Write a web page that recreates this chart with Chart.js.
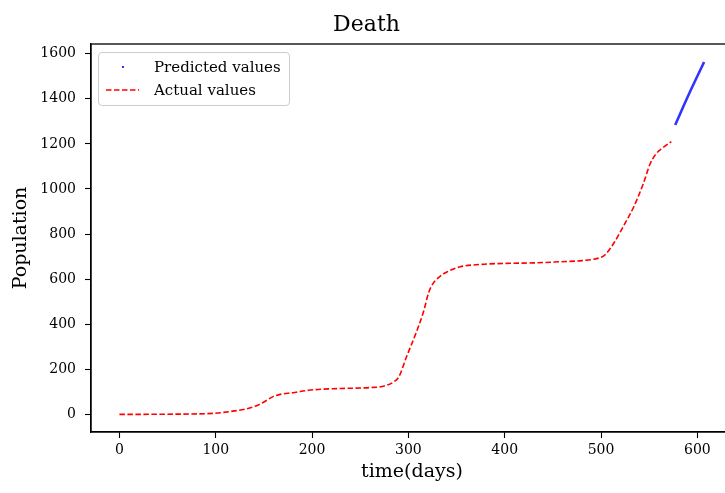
<!DOCTYPE html>
<html>
<head>
<meta charset="utf-8">
<script src="https://cdn.jsdelivr.net/npm/chart.js@4"></script>
<style>
  html, body { margin: 0; padding: 0; background: #fff; overflow: hidden; }
  #wrap { position: relative; width: 745px; height: 493px; }
  #legend {
    position: absolute; left: 98px; top: 52px; width: 190px; height: 52px;
    border: 1px solid #ccc; border-radius: 4px; background: rgba(255,255,255,0.8);
    font-family: "DejaVu Serif", serif; font-size: 15px; color: #000;
  }
  #legend .row { position: absolute; left: 0; height: 20px; line-height: 20px; }
  #legend svg { position: absolute; left: 7px; top: 2px; }
  #legend span { position: absolute; left: 55px; white-space: nowrap; }
</style>
</head>
<body>
<div id="wrap">
  <canvas id="chart" width="745" height="493"></canvas>
  <div id="legend">
    <div class="row" style="top:4px">
      <svg width="34" height="16"><circle cx="17" cy="8" r="1.1" fill="#0000ff"/></svg>
      <span>Predicted values</span>
    </div>
    <div class="row" style="top:27px">
      <svg width="34" height="16"><line x1="0" y1="8" x2="33" y2="8" stroke="#ff0000" stroke-width="1.6" stroke-dasharray="5.5,2.5"/></svg>
      <span>Actual values</span>
    </div>
  </div>
</div>
<script>
const actualDays = [0, 50, 98, 115, 132, 143, 150, 160, 168, 180, 198, 230, 260, 275, 285, 290, 298, 309, 316, 321, 325, 331, 340, 354, 374, 400, 430, 457, 480, 492, 500, 504, 513, 523, 534, 544, 551, 557, 564, 573];
const actualValues = [0, 1, 5, 13, 25, 40, 55, 80, 90, 96, 108, 115, 119, 126, 145, 166, 255, 373, 460, 540, 577, 606, 632, 655, 665, 670, 672, 677, 682, 688, 697, 707, 758, 833, 921, 1025, 1112, 1155, 1182, 1210];

const predDays = [577, 592, 607];
const predValues = [1284, 1428, 1563];

const xTicks = [0, 100, 200, 300, 400, 500, 600];
const yTicks = [0, 200, 400, 600, 800, 1000, 1200, 1400, 1600];

const serif = "DejaVu Serif";

const frame = {
  id: "frame",
  afterDraw(chart) {
    const { ctx, chartArea: a } = chart;
    ctx.save();
    ctx.strokeStyle = "#000";
    ctx.lineWidth = 1.3;
    ctx.strokeRect(a.left, a.top, a.right - a.left, a.bottom - a.top);
    ctx.restore();
  },
};

new Chart(document.getElementById("chart"), {
  type: "scatter",
  data: {
    datasets: [
      {
        label: "Predicted values",
        data: predDays.map((d, i) => ({ x: d, y: predValues[i] })),
        showLine: true,
        borderColor: "rgba(0,0,255,0.8)",
        borderWidth: 2.6,
        pointRadius: 0,
        tension: 0.4,
      },
      {
        label: "Actual values",
        data: actualDays.map((d, i) => ({ x: d, y: actualValues[i] })),
        showLine: true,
        borderColor: "#ff0000",
        borderWidth: 1.6,
        borderDash: [5.5, 2.5],
        pointRadius: 0,
        cubicInterpolationMode: "monotone",
      },
    ],
  },
  options: {
    responsive: false,
    animation: false,
    layout: { padding: { left: 0, right: 12, top: 0, bottom: 0 } },
    plugins: {
      legend: { display: false },
      tooltip: { enabled: false },
      title: {
        display: true,
        text: "Death",
        color: "#000",
        font: { family: serif, size: 22, weight: "normal" },
        padding: { top: 12, bottom: 5.6 },
      },
    },
    scales: {
      x: {
        type: "linear",
        min: -29.5,
        max: 637,
        afterBuildTicks: (axis) => { axis.ticks = xTicks.map((v) => ({ value: v })); },
        afterFit: (axis) => { axis.height = 61; },
        grid: { drawOnChartArea: false, tickLength: 6, tickColor: "#000", tickWidth: 1.1 },
        border: { color: "#000", width: 1.3 },
        ticks: { color: "#000", font: { family: serif, size: 14 }, padding: 4, maxRotation: 0, callback: (v) => String(v) },
        title: {
          display: true,
          text: "time(days)",
          color: "#000",
          font: { family: serif, size: 19 },
          padding: { top: 10, bottom: 10 },
        },
      },
      y: {
        min: -78,
        max: 1643,
        afterBuildTicks: (axis) => { axis.ticks = yTicks.map((v) => ({ value: v })); },
        afterFit: (axis) => { axis.width = 91; },
        grid: { drawOnChartArea: false, tickLength: 6, tickColor: "#000", tickWidth: 1.1 },
        border: { color: "#000", width: 1.3 },
        ticks: { color: "#000", font: { family: serif, size: 14 }, padding: 9, callback: (v) => String(v) },
        title: {
          display: true,
          text: "Population",
          color: "#000",
          font: { family: serif, size: 19 },
          padding: { top: 10, bottom: 10 },
        },
      },
    },
  },
  plugins: [frame],
});
</script>
</body>
</html>
